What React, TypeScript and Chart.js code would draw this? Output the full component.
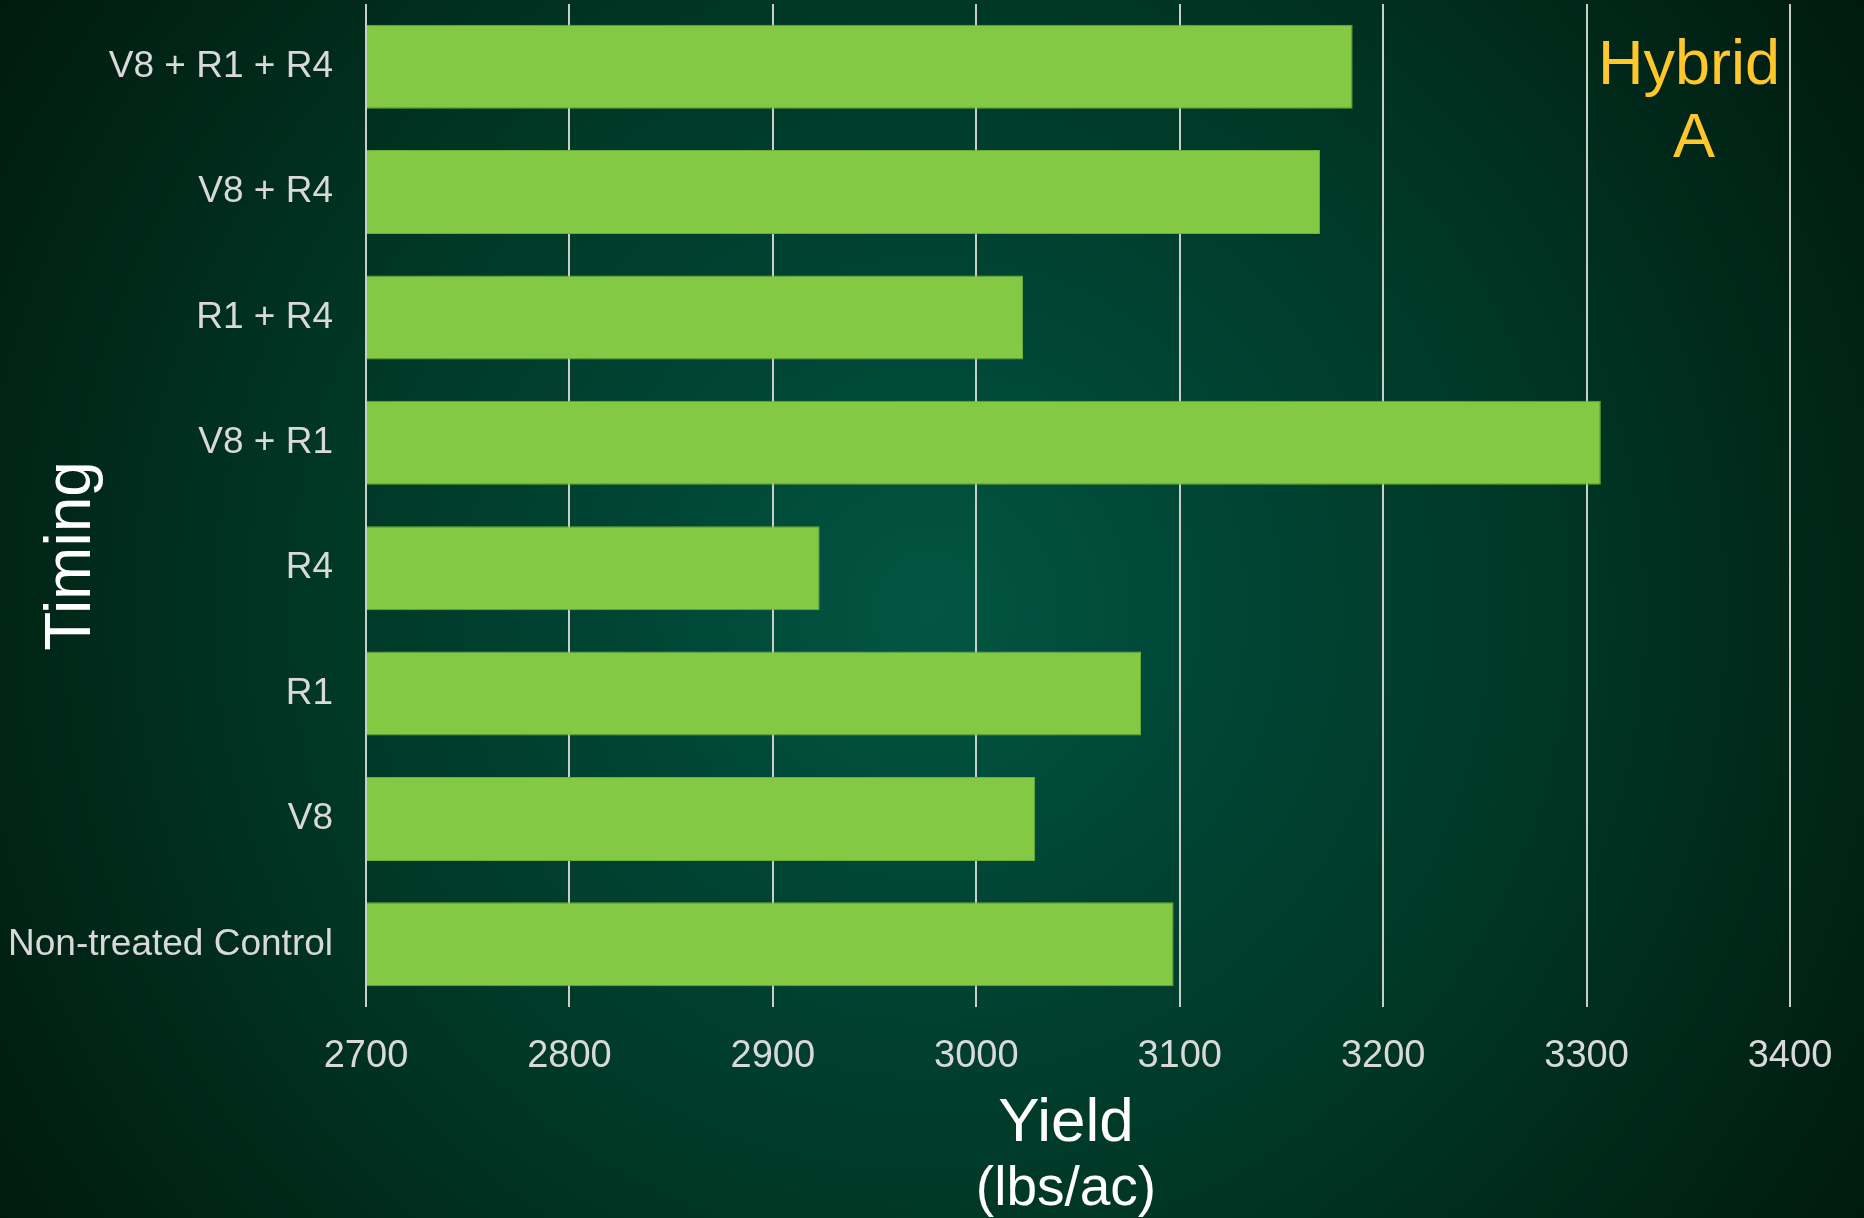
import React, { useEffect, useRef } from "react";
import { Chart, registerables } from "chart.js";

Chart.register(...registerables);

const CATEGORIES = [
  "V8 + R1 + R4",
  "V8 + R4",
  "R1 + R4",
  "V8 + R1",
  "R4",
  "R1",
  "V8",
  "Non-treated Control",
];
const YIELDS = [3185, 3169, 3023, 3307, 2923, 3081, 3029, 3097];
const AXIS_MIN = 2700;
const AXIS_MAX = 3400;
const AXIS_STEP = 100;
const X_TITLE = "Yield";
const X_SUBTITLE = "(lbs/ac)";
const Y_TITLE = "Timing";
const NOTE_LINES = ["Hybrid", "A"];

const FONT = '"Liberation Sans", Arial, Helvetica, sans-serif';
const W = 1864;
const H = 1218;

const titlesPlugin = {
  id: "titles",
  afterDraw(chart: any) {
    const ctx = chart.ctx;
    ctx.save();
    ctx.fillStyle = "#ffffff";
    ctx.textAlign = "center";
    ctx.textBaseline = "alphabetic";
    // y-axis title
    ctx.save();
    ctx.translate(90, 556);
    ctx.rotate(-Math.PI / 2);
    ctx.font = `64px ${FONT}`;
    ctx.fillText(Y_TITLE, 0, 0);
    ctx.restore();
    // x-axis titles
    ctx.font = `62px ${FONT}`;
    ctx.fillText(X_TITLE, 1066, 1141);
    ctx.font = `55px ${FONT}`;
    ctx.fillText(X_SUBTITLE, 1066, 1205);
    // note
    ctx.fillStyle = "#FFC72C";
    ctx.font = `63px ${FONT}`;
    ctx.fillText(NOTE_LINES[0], 1689, 84);
    ctx.fillText(NOTE_LINES[1], 1694, 157);
    ctx.restore();
  },
};

export default function App() {
  const ref = useRef<HTMLCanvasElement | null>(null);

  useEffect(() => {
    if (!ref.current) return;
    const chart = new Chart(ref.current, {
      type: "bar",
      data: {
        labels: CATEGORIES,
        datasets: [
          {
            data: YIELDS,
            base: AXIS_MIN,
            backgroundColor: "#84C944",
            borderColor: "#6FAE3A",
            borderWidth: 1,
            borderSkipped: "start",
            barPercentage: 0.67,
            categoryPercentage: 1,
          } as any,
        ],
      },
      options: {
        indexAxis: "y",
        responsive: false,
        animation: false,
        devicePixelRatio: 1,
        layout: { padding: { top: 4, right: 74, left: 0, bottom: 0 } },
        plugins: {
          legend: { display: false },
          tooltip: { enabled: false },
        },
        scales: {
          x: {
            type: "linear",
            min: AXIS_MIN,
            max: AXIS_MAX,
            ticks: {
              stepSize: AXIS_STEP,
              color: "#D9D9D9",
              font: { family: FONT, size: 38 },
              padding: 27,
              maxRotation: 0,
              callback: (v: any) => String(v),
            },
            grid: {
              color: "#C9CEC9",
              lineWidth: 2,
              drawTicks: false,
            },
            border: { display: false },
            afterFit: (scale: any) => {
              scale.height = 211;
              scale.paddingLeft = 0;
              scale.paddingRight = 0;
            },
          },
          y: {
            ticks: {
              color: "#D9D9D9",
              font: { family: FONT, size: 37 },
              padding: 33,
            },
            grid: { display: false, drawTicks: false },
            border: { display: false },
            afterFit: (scale: any) => {
              scale.width = 366;
              scale.paddingTop = 0;
              scale.paddingBottom = 0;
            },
          },
        },
      },
      plugins: [titlesPlugin],
    });
    return () => chart.destroy();
  }, []);

  return (
    <div
      style={{
        position: "absolute",
        left: 0,
        top: 0,
        width: W,
        height: H,
        overflow: "hidden",
        background:
          "radial-gradient(circle at 930px 610px, #035643 0px, #004535 300px, #003826 600px, #001a0e 1120px)",
      }}
    >
      <canvas ref={ref} width={W} height={H} style={{ display: "block", width: W, height: H }} />
    </div>
  );
}
